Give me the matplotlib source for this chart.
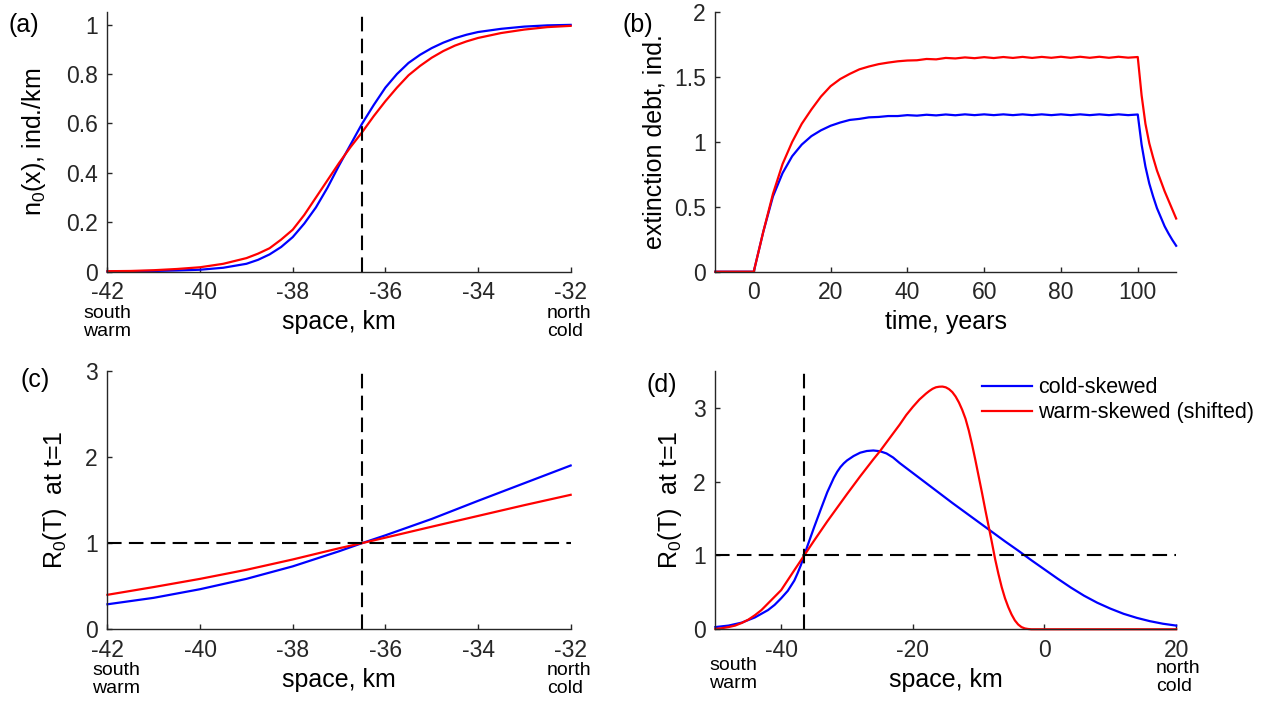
import matplotlib
matplotlib.use('Agg')
import matplotlib.pyplot as plt
from matplotlib.ticker import FuncFormatter

plt.rcParams['font.family'] = ['Liberation Sans', 'DejaVu Sans']
plt.rcParams['mathtext.fontset'] = 'custom'
plt.rcParams['mathtext.rm'] = 'Liberation Sans'
plt.rcParams['mathtext.it'] = 'Liberation Sans'
plt.rcParams['axes.unicode_minus'] = False

# (a) initial density profile n0(x)
x_front = [-42, -41.5, -41, -40.5, -40, -39.5, -39, -38.75, -38.5, -38.25, -38, -37.75,
           -37.5, -37.25, -37, -36.75, -36.5, -36.25, -36, -35.75, -35.5, -35.25, -35,
           -34.75, -34.5, -34.25, -34, -33.5, -33, -32.5, -32]
n0_cold = [0.001, 0.002, 0.003, 0.005, 0.008, 0.016, 0.032, 0.048, 0.07, 0.10, 0.14, 0.195,
           0.26, 0.34, 0.43, 0.515, 0.60, 0.675, 0.745, 0.80, 0.845, 0.878, 0.905,
           0.927, 0.945, 0.959, 0.97, 0.983, 0.992, 0.997, 0.999]
n0_warm = [0.002, 0.003, 0.006, 0.011, 0.018, 0.032, 0.055, 0.073, 0.095, 0.13, 0.17, 0.23,
           0.30, 0.37, 0.44, 0.505, 0.565, 0.63, 0.69, 0.745, 0.795, 0.833, 0.866,
           0.893, 0.915, 0.932, 0.946, 0.966, 0.98, 0.99, 0.995]

# (b) extinction debt over time
t_years = [-10, 0, 2.5, 5, 7.5, 10, 12.5, 15, 17.5, 20, 22.5, 25, 27.5, 30, 32.5, 35, 37.5,
           40, 42.5, 45, 47.5, 50, 52.5, 55, 57.5, 60, 62.5, 65, 67.5, 70, 72.5, 75, 77.5,
           80, 82.5, 85, 87.5, 90, 92.5, 95, 97.5, 100,
           101, 102, 103, 104, 105, 106, 107, 108, 109, 110]
debt_cold = [0, 0, 0.31, 0.58, 0.76, 0.89, 0.98, 1.045, 1.09, 1.125, 1.15, 1.17, 1.178,
             1.19, 1.193, 1.200, 1.200, 1.207, 1.203, 1.210, 1.205, 1.212, 1.206, 1.213,
             1.207, 1.213, 1.207, 1.213, 1.207, 1.213, 1.207, 1.213, 1.207, 1.213, 1.207,
             1.213, 1.207, 1.213, 1.207, 1.213, 1.207, 1.212,
             0.98, 0.81, 0.68, 0.58, 0.49, 0.42, 0.35, 0.295, 0.245, 0.20]
debt_warm = [0, 0, 0.31, 0.60, 0.83, 1.00, 1.14, 1.25, 1.35, 1.43, 1.485, 1.525, 1.56,
             1.582, 1.60, 1.612, 1.622, 1.628, 1.630, 1.640, 1.637, 1.648, 1.644, 1.652,
             1.646, 1.654, 1.647, 1.655, 1.648, 1.656, 1.648, 1.656, 1.649, 1.657, 1.649,
             1.657, 1.649, 1.657, 1.649, 1.657, 1.650, 1.655,
             1.36, 1.14, 0.99, 0.88, 0.78, 0.70, 0.62, 0.55, 0.48, 0.41]

# (c) R0 along the domain at t=1
x_r0 = [-42, -41, -40, -39, -38, -37, -36.5, -36, -35, -34, -33, -32]
r0_cold = [0.29, 0.365, 0.465, 0.585, 0.73, 0.905, 1.0, 1.09, 1.28, 1.49, 1.695, 1.90]
r0_warm = [0.40, 0.49, 0.585, 0.69, 0.81, 0.94, 1.0, 1.063, 1.19, 1.315, 1.44, 1.56]

# (d) R0 over the wide domain
x_wide_cold = [-50, -48, -46, -44, -42, -41, -40, -39, -38, -37.5, -37, -36.5, -36, -35,
               -34, -33, -32, -31.5, -31, -30.5, -30, -29, -28, -27, -26, -25, -24, -23,
               -22, -20, -18, -16, -14, -12, -10, -8, -6, -4, -3, -2, 0, 2, 4, 6, 8, 10,
               12, 14, 16, 18, 20]
r0_wide_cold = [0.03, 0.05, 0.09, 0.16, 0.26, 0.33, 0.42, 0.52, 0.66, 0.76, 0.87, 1.0, 1.13,
                1.38, 1.62, 1.855, 2.05, 2.13, 2.195, 2.245, 2.285, 2.345, 2.39, 2.413, 2.42,
                2.41, 2.38, 2.325, 2.25, 2.115, 1.98, 1.845, 1.71, 1.58, 1.45, 1.32, 1.19,
                1.065, 1.0, 0.935, 0.81, 0.685, 0.565, 0.455, 0.36, 0.28, 0.21, 0.155, 0.11,
                0.075, 0.05]
x_wide_warm = [-50, -49, -48, -47, -46, -45, -44, -43, -42, -40, -38, -36.5, -35, -33, -30,
               -28, -26, -25, -24, -23, -22, -21, -20, -19, -18, -17.5, -17, -16.5, -16,
               -15.5, -15, -14.5, -14, -13.5, -13, -12.5, -12, -11.5, -11, -10.5, -10,
               -9.5, -9, -8.5, -8, -7.5, -7, -6.5, -6, -5.5, -5, -4.5, -4, -3.5, -3, -2.5,
               -2, 0, 20]
r0_wide_warm = [0.005, 0.015, 0.03, 0.05, 0.085, 0.13, 0.19, 0.26, 0.35, 0.53, 0.80, 1.0,
                1.20, 1.46, 1.83, 2.07, 2.30, 2.41, 2.53, 2.65, 2.77, 2.90, 3.01, 3.11, 3.19,
                3.225, 3.255, 3.275, 3.283, 3.285, 3.275, 3.25, 3.21, 3.15, 3.07, 2.97, 2.85,
                2.69, 2.50, 2.29, 2.07, 1.85, 1.62, 1.40, 1.18, 0.95, 0.75, 0.57, 0.42, 0.30,
                0.20, 0.12, 0.065, 0.03, 0.012, 0.004, 0.0, 0.0, 0.0]

x_threshold = -36.5
gray = '#262626'


def style(ax, xticks, yticks, xlim, ylim):
    for side in ['top', 'right']:
        ax.spines[side].set_visible(False)
    for side in ['left', 'bottom']:
        ax.spines[side].set_color(gray)
        ax.spines[side].set_linewidth(1.0)
    ax.set_xlim(xlim)
    ax.set_ylim(ylim)
    ax.set_xticks(xticks)
    ax.set_yticks(yticks)
    fmt = FuncFormatter(lambda v, p: '%g' % v)
    ax.xaxis.set_major_formatter(fmt)
    ax.yaxis.set_major_formatter(fmt)
    ax.tick_params(direction='in', length=3.5, width=1.0, colors=gray,
                   labelsize=16.5, pad=7)


def end_labels(ax, sx, sy, nx, ny):
    ax.text(sx, sy, 'south\nwarm', transform=ax.transAxes, ha='left', va='top',
            fontsize=14, color='black', linespacing=1.1)
    ax.text(nx, ny, 'north\ncold', transform=ax.transAxes, ha='left', va='top',
            fontsize=14, color='black', linespacing=1.1)


def main():
    fig = plt.figure(figsize=(12.67, 7.05), dpi=100)
    ax_a = fig.add_axes([0.0848, 0.6146, 0.3656, 0.368])
    ax_b = fig.add_axes([0.5646, 0.6146, 0.3637, 0.368])
    ax_c = fig.add_axes([0.0848, 0.1074, 0.3656, 0.3668])
    ax_d = fig.add_axes([0.5646, 0.1074, 0.3637, 0.3668])

    lw = 1.6
    dash = dict(color='black', lw=1.5, dashes=(7, 3.5))

    # (a)
    ax_a.plot(x_front, n0_cold, color='blue', lw=lw, clip_on=False)
    ax_a.plot(x_front, n0_warm, color='red', lw=lw, clip_on=False)
    ax_a.axvline(x_threshold, **dash)
    style(ax_a, range(-42, -31, 2), [0, 0.2, 0.4, 0.6, 0.8, 1], (-42, -32), (0, 1.05))
    ax_a.set_xlabel('space, km', fontsize=18)
    ax_a.set_ylabel('n$_0$(x), ind./km', fontsize=18)
    ax_a.xaxis.set_label_coords(0.5, -0.148)
    ax_a.yaxis.set_label_coords(-0.128, 0.5)
    end_labels(ax_a, -0.052, -0.128, 0.949, -0.128)

    # (b)
    ax_b.plot(t_years, debt_cold, color='blue', lw=lw, clip_on=False)
    ax_b.plot(t_years, debt_warm, color='red', lw=lw, clip_on=False)
    style(ax_b, range(0, 101, 20), [0, 0.5, 1, 1.5, 2], (-10, 110), (0, 2))
    ax_b.set_xlabel('time, years', fontsize=18)
    ax_b.set_ylabel('extinction debt, ind.', fontsize=18)
    ax_b.xaxis.set_label_coords(0.5, -0.148)
    ax_b.yaxis.set_label_coords(-0.107, 0.5)

    # (c)
    ax_c.plot(x_r0, r0_cold, color='blue', lw=lw, clip_on=False)
    ax_c.plot(x_r0, r0_warm, color='red', lw=lw, clip_on=False)
    ax_c.axvline(x_threshold, **dash)
    ax_c.axhline(1, **dash)
    style(ax_c, range(-42, -31, 2), [0, 1, 2, 3], (-42, -32), (0, 3))
    ax_c.set_xlabel('space, km', fontsize=18)
    ax_c.set_ylabel('R$_0$(T)  at t=1', fontsize=18)
    ax_c.xaxis.set_label_coords(0.5, -0.150)
    ax_c.yaxis.set_label_coords(-0.083, 0.5)
    end_labels(ax_c, -0.033, -0.126, 0.949, -0.126)

    # (d)
    ax_d.plot(x_wide_cold, r0_wide_cold, color='blue', lw=lw, clip_on=False,
              label='cold-skewed')
    ax_d.plot(x_wide_warm, r0_wide_warm, color='red', lw=lw, clip_on=False,
              label='warm-skewed (shifted)')
    ax_d.axvline(x_threshold, **dash)
    ax_d.axhline(1, **dash)
    style(ax_d, [-40, -20, 0, 20], [0, 1, 2, 3], (-50, 20), (0, 3.5))
    ax_d.set_xlabel('space, km', fontsize=18)
    ax_d.set_ylabel('R$_0$(T)  at t=1', fontsize=18)
    ax_d.xaxis.set_label_coords(0.5, -0.150)
    ax_d.yaxis.set_label_coords(-0.068, 0.5)
    end_labels(ax_d, -0.013, -0.107, 0.956, -0.119)
    ax_d.legend(loc='upper left', bbox_to_anchor=(0.5786, 0.975), frameon=False,
                fontsize=15.5, handlelength=2.34, handletextpad=0.25,
                labelspacing=0.2, borderpad=0, borderaxespad=0)

    # panel letters
    fig.text(8 / 1267, 1 - 25 / 705, '(a)', fontsize=18, va='center', ha='left')
    fig.text(622 / 1267, 1 - 25 / 705, '(b)', fontsize=18, va='center', ha='left')
    fig.text(21 / 1267, 1 - 380 / 705, '(c)', fontsize=18, va='center', ha='left')
    fig.text(646 / 1267, 1 - 385 / 705, '(d)', fontsize=18, va='center', ha='left')

    fig.savefig('out.png', dpi=100)


if __name__ == '__main__':
    main()
